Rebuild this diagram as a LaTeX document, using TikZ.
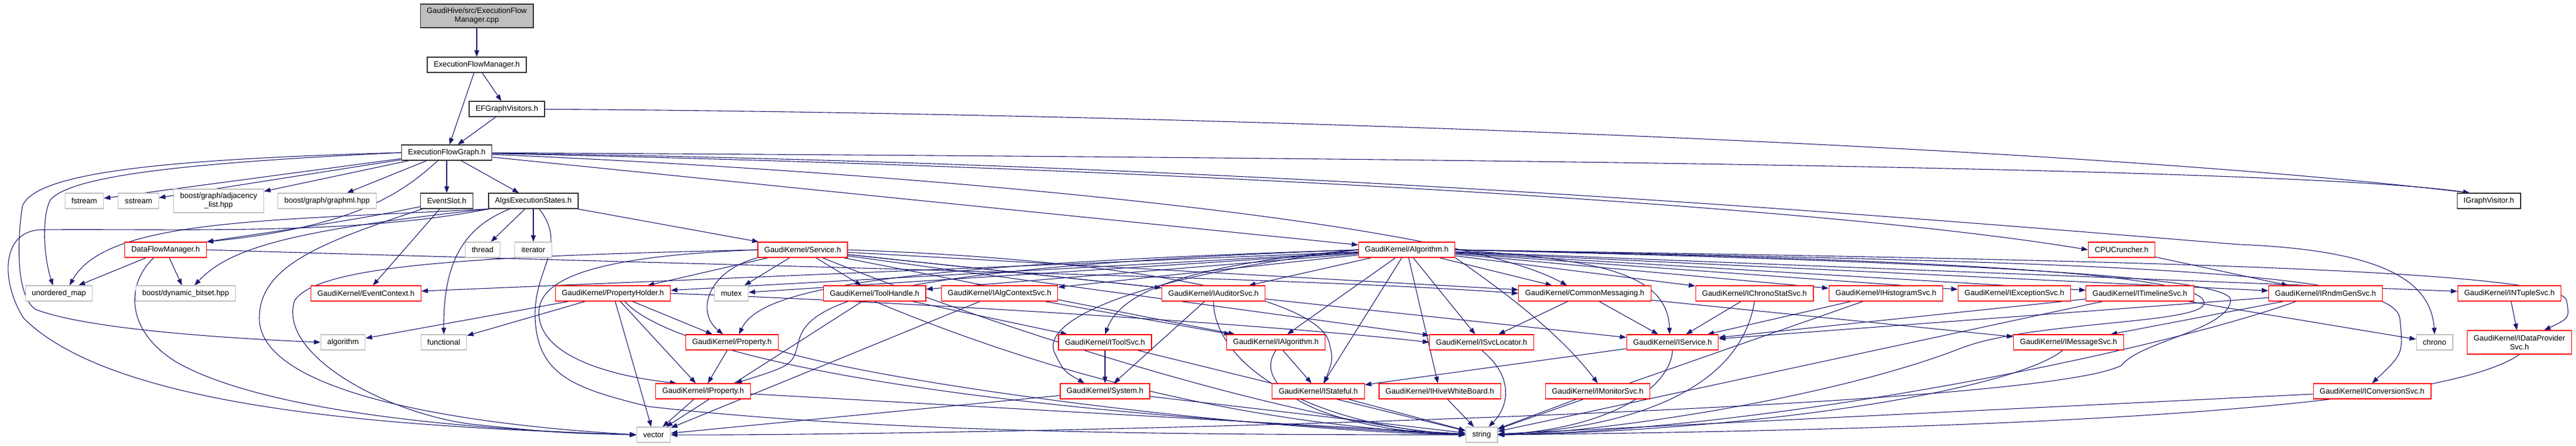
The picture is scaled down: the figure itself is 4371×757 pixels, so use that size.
\documentclass[tikz,border=0pt]{standalone}
\usepackage{fontspec}
\setmainfont{Liberation Sans}
\usepackage{tikz}
\usetikzlibrary{arrows.meta}
\definecolor{midnight}{RGB}{25,25,112}
\definecolor{hdrgrey}{RGB}{191,191,191}
\pgfdeclarelayer{bg}
\pgfsetlayers{bg,main}

\begin{document}
\begin{tikzpicture}[x=1pt,y=-1pt,font=\fontsize{13}{15}\selectfont,
  box/.style={draw,fill=white,line width=1.2pt,inner xsep=11pt,inner ysep=0pt,minimum height=26pt,align=center},
  own/.style={box,draw=black!80},
  trunc/.style={box,draw=red},
  sys/.style={box,draw=hdrgrey},
  inc/.style={draw=midnight,line width=1.1pt,-{Triangle[length=11pt,width=8pt]}}]
  \useasboundingbox (0,0) rectangle (4371,757);
  \node (cpp) at (809,27) [own,fill=hdrgrey,minimum height=40pt] {GaudiHive/src/ExecutionFlow\\Manager.cpp};
  \node (efm) at (809,110) [own] {ExecutionFlowManager.h};
  \node (efv) at (860,185) [own] {EFGraphVisitors.h};
  \node (efg) at (758,259) [own] {ExecutionFlowGraph.h};
  \node (fstream) at (143,341) [sys] {fstream};
  \node (sstream) at (235,341) [sys] {sstream};
  \node (adj) at (371,341) [sys,minimum height=40pt] {boost/graph/adjacency\\\_list.hpp};
  \node (graphml) at (555,341) [sys] {boost/graph/graphml.hpp};
  \node (evslot) at (758,341) [own] {EventSlot.h};
  \node (aes) at (905,341) [own] {AlgsExecutionStates.h};
  \node (igv) at (4223,341) [own] {IGraphVisitor.h};
  \node (dfm) at (281,424) [trunc] {DataFlowManager.h};
  \node (thread) at (819,424) [sys] {thread};
  \node (iterator) at (905,424) [sys] {iterator};
  \node (service) at (1362,424) [trunc] {GaudiKernel/Service.h};
  \node (alg) at (2387,424) [trunc] {GaudiKernel/Algorithm.h};
  \node (cpu) at (3600,424) [trunc] {CPUCruncher.h};
  \node (umap) at (100,498) [sys] {unordered\_map};
  \node (bitset) at (315,498) [sys] {boost/dynamic\_bitset.hpp};
  \node (evctx) at (621,498) [trunc] {GaudiKernel/EventContext.h};
  \node (pholder) at (1040,498) [trunc] {GaudiKernel/PropertyHolder.h};
  \node (mutex) at (1241,498) [sys] {mutex};
  \node (toolh) at (1484,498) [trunc] {GaudiKernel/ToolHandle.h};
  \node (ialgctx) at (1696,498) [trunc] {GaudiKernel/IAlgContextSvc.h};
  \node (iaud) at (2059,498) [trunc] {GaudiKernel/IAuditorSvc.h};
  \node (cmsg) at (2689,498) [trunc] {GaudiKernel/CommonMessaging.h};
  \node (ichrono) at (2977,498) [trunc] {GaudiKernel/IChronoStatSvc.h};
  \node (ihist) at (3200,498) [trunc] {GaudiKernel/IHistogramSvc.h};
  \node (iexc) at (3418,498) [trunc] {GaudiKernel/IExceptionSvc.h};
  \node (itime) at (3631,498) [trunc] {GaudiKernel/ITimelineSvc.h};
  \node (irndm) at (3946,498) [trunc] {GaudiKernel/IRndmGenSvc.h};
  \node (intup) at (4258,498) [trunc] {GaudiKernel/INTupleSvc.h};
  \node (algorithm) at (582,581) [sys] {algorithm};
  \node (functional) at (753,581) [sys] {functional};
  \node (prop) at (1242,581) [trunc] {GaudiKernel/Property.h};
  \node (itool) at (1875,581) [trunc] {GaudiKernel/IToolSvc.h};
  \node (ialgo) at (2165,581) [trunc] {GaudiKernel/IAlgorithm.h};
  \node (isvcloc) at (2514,581) [trunc] {GaudiKernel/ISvcLocator.h};
  \node (iserv) at (2838,581) [trunc] {GaudiKernel/IService.h};
  \node (imsg) at (3510,581) [trunc] {GaudiKernel/IMessageSvc.h};
  \node (chrono) at (4131,581) [sys] {chrono};
  \node (idp) at (4275,581) [trunc,minimum height=40pt] {GaudiKernel/IDataProvider\\Svc.h};
  \node (iprop) at (1193,664) [trunc] {GaudiKernel/IProperty.h};
  \node (system) at (1875,664) [trunc] {GaudiKernel/System.h};
  \node (istate) at (2237,664) [trunc] {GaudiKernel/IStateful.h};
  \node (ihive) at (2443,664) [trunc] {GaudiKernel/IHiveWhiteBoard.h};
  \node (imon) at (2711,664) [trunc] {GaudiKernel/IMonitorSvc.h};
  \node (iconv) at (4025,664) [trunc] {GaudiKernel/IConversionSvc.h};
  \node (vector) at (1109,738) [sys] {vector};
  \node (string) at (2514,738) [sys] {string};
  \begin{pgfonlayer}{bg}
  \draw[inc] (cpp) to (efm);
  \draw[inc] (efm) to (efg);
  \draw[inc] (efm) to (efv);
  \draw[inc] (efv) to (efg);
  \draw[inc] (efv) .. controls (2000,192) and (3500,245) .. ([xshift=22pt]igv.north west);
  \draw[inc] (efg) .. controls (2500,268) and (3900,285) .. ([xshift=22pt]igv.north west);
  \draw[inc] (efg) to (fstream);
  \draw[inc] (efg) to (sstream);
  \draw[inc] (efg) to (adj);
  \draw[inc] (efg) to (graphml);
  \draw[inc] (efg) to (evslot);
  \draw[inc] (efg) to (aes);
  \draw[inc] (efg.west) .. controls (350,275) and (120,295) .. (85,340) .. controls (70,370) and (75,440) .. ([xshift=-10pt]umap.north);
  \draw[inc] (efg.west) .. controls (300,270) and (60,290) .. (38,350) .. controls (30,400) and (25,500) .. (60,525) .. controls (150,560) and (400,575) .. (algorithm.west);
  \draw[inc] (efg) .. controls (680,330) and (600,385) .. (dfm.north east);
  \draw[inc] (efg) to (alg);
  \draw[inc] (efg) .. controls (1500,290) and (2450,370) .. ([xshift=-30pt]cmsg.north);
  \draw[inc] (efg) .. controls (2000,285) and (3100,350) .. (cpu.west);
  \draw[inc] (efg) .. controls (2200,278) and (3300,375) .. (3800,415) .. controls (4050,425) and (4125,480) .. (chrono.north);
  \draw[inc] (evslot) .. controls (600,375) and (450,395) .. (dfm.north east);
  \draw[inc] (evslot) to (evctx);
  \draw[inc] (evslot) .. controls (550,410) and (440,450) .. (440,540) .. controls (440,650) and (700,715) .. (vector.west);
  \draw[inc] (aes) to (thread);
  \draw[inc] (aes) to (iterator);
  \draw[inc] (aes) to (service);
  \draw[inc] ([xshift=-40pt]aes.south) .. controls (790,385) and (752,440) .. (functional.north);
  \draw[inc] ([xshift=10pt]aes.south) .. controls (965,420) and (905,455) .. (908,540) .. controls (912,640) and (980,660) .. (1100,690) .. controls (1500,735) and (2000,738) .. (string.west);
  \draw[inc] ([xshift=-75pt]aes.south) .. controls (450,375) and (180,372) .. ([xshift=18pt]umap.north);
  \draw[inc] ([xshift=-75pt]aes.south) .. controls (500,390) and (390,420) .. ([xshift=15pt]bitset.north);
  \draw[inc] ([xshift=-75pt]aes.south) .. controls (600,400) and (300,388) .. (70,390) .. controls (0,392) and (2,480) .. (40,540) .. controls (200,700) and (700,725) .. (vector.west);
  \draw[inc] (dfm) to (umap);
  \draw[inc] (dfm) to (bitset);
  \draw[inc] ([xshift=-20pt]dfm.south) .. controls (215,480) and (210,560) .. (300,615) .. controls (450,700) and (800,730) .. (vector.west);
  \draw[inc] (dfm.east) .. controls (1200,450) and (2200,470) .. (cmsg.west);
  \draw[inc] (service) to (pholder);
  \draw[inc] (service) to (mutex);
  \draw[inc] (service) to (toolh);
  \draw[inc] (service.south west) .. controls (1200,460) and (1180,530) .. ([xshift=-15pt]prop.north);
  \draw[inc] (service.west) .. controls (1000,435) and (905,475) .. (915,540) .. controls (925,610) and (1050,640) .. ([xshift=-45pt]iprop.north);
  \draw[inc] (service.west) .. controls (800,435) and (540,450) .. (500,510) .. controls (470,600) and (650,700) .. (800,720) .. controls (950,735) .. (vector.west);
  \draw[inc] (service) to (iaud);
  \draw[inc] (service) to (cmsg);
  \draw[inc] (service) to (iserv);
  \draw[inc] (service) to (isvcloc);
  \draw[inc] (service) to (ialgo);
  \draw[inc] (service.east) .. controls (1900,440) and (2230,500) .. (2255,580) .. controls (2262,610) .. ([xshift=10pt]istate.north);
  \draw[inc] (service) .. controls (1700,560) and (2200,720) .. (string.west);
  \draw[inc] (pholder) to (algorithm);
  \draw[inc] (pholder) to (functional);
  \draw[inc] (pholder) to (prop);
  \draw[inc] (pholder) to (iprop);
  \draw[inc] (pholder) to (vector);
  \draw[inc] ([xshift=20pt]pholder.south) .. controls (1130,590) and (1500,690) .. (string.west);
  \draw[inc] (pholder.east) .. controls (1600,515) and (2200,555) .. (isvcloc.west);
  \draw[inc] (prop) to (iprop);
  \draw[inc] (prop.south east) .. controls (1500,650) and (2100,730) .. (string.west);
  \draw[inc] (iprop) to (vector);
  \draw[inc] (iprop) to (string);
  \draw[inc] (toolh) to (itool);
  \draw[inc] (toolh) to (vector);
  \draw[inc] (toolh.south) .. controls (1650,580) and (2000,715) .. (string.west);
  \draw[inc] (ialgctx) to (vector);
  \draw[inc] (ialgctx) to (ialgo);
  \draw[inc] (iaud) to (system);
  \draw[inc] (iaud.south) .. controls (2060,610) and (2200,720) .. (string.west);
  \draw[inc] (itool) to (system);
  \draw[inc] (itool) to (string);
  \draw[inc] (system) to (vector);
  \draw[inc] (system) to (string);
  \draw[inc] (ialgo) to (istate);
  \draw[inc] (ialgo.south) .. controls (2120,660) and (2250,730) .. (string.west);
  \draw[inc] (isvcloc.south) .. controls (2570,640) and (2560,690) .. ([xshift=12pt]string.north);
  \draw[inc] (iserv) to (istate);
  \draw[inc] (iserv.south) .. controls (2835,650) and (2750,725) .. (string.east);
  \draw[inc] (istate) to (string);
  \draw[inc] (ihive) to (string);
  \draw[inc] (imon) to (string);
  \draw[inc] (alg) to (evctx);
  \draw[inc] (alg) to (pholder);
  \draw[inc] (alg) to (mutex);
  \draw[inc] (alg) to (toolh);
  \draw[inc] (alg) to (ialgctx);
  \draw[inc] (alg) to (iaud);
  \draw[inc] (alg) to (ialgo);
  \draw[inc] (alg) to (istate);
  \draw[inc] (alg) to (ihive);
  \draw[inc] (alg) to (isvcloc);
  \draw[inc] (alg) to (cmsg);
  \draw[inc] (alg.west) .. controls (1500,450) and (1290,490) .. ([xshift=12pt]prop.north);
  \draw[inc] (alg.west) .. controls (1450,455) and (1370,520) .. (1355,580) .. controls (1345,620) .. ([xshift=55pt]iprop.north);
  \draw[inc] (alg.west) .. controls (2000,450) and (1900,500) .. (itool.north);
  \draw[inc] (alg.west) .. controls (1950,465) and (1760,540) .. (1790,600) .. controls (1805,630) .. ([xshift=-35pt]system.north);
  \draw[inc] (alg.south east) .. controls (2560,500) and (2650,570) .. (imon.north);
  \draw[inc] (alg.east) .. controls (2700,440) and (2830,460) .. ([xshift=-5pt]iserv.north);
  \draw[inc] (alg) to (ichrono);
  \draw[inc] (alg) to (ihist);
  \draw[inc] (alg) to (iexc);
  \draw[inc] (alg) to (itime);
  \draw[inc] (alg) to (irndm);
  \draw[inc] (alg) to (intup);
  \draw[inc] (alg.east) .. controls (3500,440) and (4345,455) .. (4355,510) .. controls (4360,540) .. ([xshift=42pt]idp.north);
  \draw[inc] (alg.east) .. controls (3500,445) and (4060,455) .. (4072,540) .. controls (4078,600) .. (iconv.north);
  \draw[inc] (alg.east) .. controls (3300,440) and (3745,465) .. (3740,515) .. controls (3735,550) and (3450,545) .. (3330,590) .. controls (3100,680) and (2700,735) .. (string.east);
  \draw[inc] (alg.east) .. controls (3350,445) and (3790,470) .. (3785,510) .. controls (3780,560) and (3630,580) .. (3600,620) .. controls (3450,700) and (1600,740) .. (vector.east);
  \draw[inc] (cmsg) to (isvcloc);
  \draw[inc] (cmsg) to (iserv);
  \draw[inc] (cmsg) to (imsg);
  \draw[inc] (ichrono) to (iserv);
  \draw[inc] (ichrono.south) .. controls (2960,620) and (2850,720) .. (string.east);
  \draw[inc] (ihist) to (iserv);
  \draw[inc] (ihist) to (string);
  \draw[inc] (itime) to (iserv);
  \draw[inc] (itime) to (string);
  \draw[inc] (itime) to (chrono);
  \draw[inc] (irndm) to (iserv);
  \draw[inc] (irndm) to (imsg);
  \draw[inc] ([xshift=-50pt]irndm.south) .. controls (3650,600) and (3000,730) .. (string.east);
  \draw[inc] (cpu) to (irndm);
  \draw[inc] (intup) to (idp);
  \draw[inc] (idp.south) .. controls (4150,690) and (3500,728) .. (string.east);
  \draw[inc] (iconv) to (string);
  \draw[inc] ([xshift=-10pt]imsg.south) .. controls (3420,660) and (3000,730) .. (string.east);
  \end{pgfonlayer}
\end{tikzpicture}
\end{document}
